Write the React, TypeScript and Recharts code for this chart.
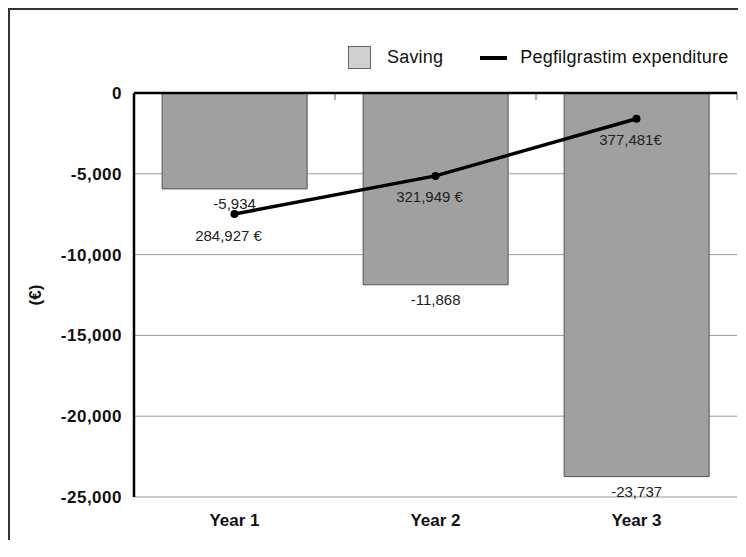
import {
  ComposedChart,
  Bar,
  Line,
  XAxis,
  YAxis,
  CartesianGrid,
  Legend,
  LabelList,
  ReferenceLine,
} from "recharts";

const years = ["Year 1", "Year 2", "Year 3"];
const savings = [-5934, -11868, -23737];
const expenditure = [284927, 321949, 377481];
const expenditureLabels = ["284,927 €", "321,949 €", "377,481€"];
const yTicks = [-25000, -20000, -15000, -10000, -5000, 0];

const data = years.map((year, i) => ({
  year,
  saving: savings[i],
  expenditure: expenditure[i],
}));

const FONT = '"Liberation Sans", Arial, Helvetica, sans-serif';

function renderSavingLabel(props: any) {
  const { x, y, width, height, value } = props;
  const bottom = Math.max(Number(y), Number(y) + Number(height));
  return (
    <text
      x={Number(x) + Number(width) / 2}
      y={bottom + 15}
      textAnchor="middle"
      dominantBaseline="central"
      fontSize={15}
      fontFamily={FONT}
      fill="#222"
    >
      {Number(value).toLocaleString("en-US")}
    </text>
  );
}

function renderExpenditureLabel(props: any) {
  const { x, y, index } = props;
  return (
    <text
      x={Number(x) - 6}
      y={Number(y) + 21}
      textAnchor="middle"
      dominantBaseline="central"
      fontSize={15}
      fontFamily={FONT}
      fill="#222"
    >
      {expenditureLabels[index]}
    </text>
  );
}

// zero line with the small marks at the category boundaries hanging under it
function renderZeroLine(props: any) {
  const x1 = Number(props.x1);
  const x2 = Number(props.x2);
  const y = Number(props.y1);
  const n = years.length;
  const marks = Array.from({ length: n + 1 }, (_, i) => x1 + ((x2 - x1) * i) / n);
  return (
    <g>
      {marks.map((mx, i) => (
        <line key={i} x1={mx} x2={mx} y1={y} y2={y + 7} stroke="#666" strokeWidth={1} />
      ))}
      <line x1={x1} x2={x2} y1={y} y2={y} stroke="#000" strokeWidth={2.5} />
    </g>
  );
}

function renderLegend() {
  return (
    <div
      style={{
        display: "flex",
        alignItems: "center",
        fontFamily: FONT,
        fontSize: 18,
        color: "#111",
        letterSpacing: 0.2,
      }}
    >
      <span
        style={{
          width: 23,
          height: 23,
          boxSizing: "border-box",
          background: "#d0d0d0",
          border: "1.5px solid #666",
          marginRight: 16,
        }}
      />
      <span>Saving</span>
      <span
        style={{
          width: 27,
          height: 4,
          background: "#000",
          marginLeft: 37,
          marginRight: 13,
        }}
      />
      <span>Pegfilgrastim expenditure</span>
    </div>
  );
}

export default function App() {
  return (
    <div
      style={{
        borderTop: "2px solid #333",
        borderLeft: "2px solid #333",
        width: 734,
        height: 530,
      }}
    >
      <ComposedChart
        width={734}
        height={530}
        data={data}
        margin={{ top: 83, right: 7, left: 0, bottom: 13 }}
        barCategoryGap="14%"
      >
        <CartesianGrid vertical={false} stroke="#999" />
        <XAxis
          dataKey="year"
          axisLine={false}
          tickLine={false}
          tickSize={0}
          tickMargin={17}
          height={30}
          tick={{ fontSize: 17, fontWeight: 700, fill: "#111", fontFamily: FONT }}
        />
        <YAxis
          domain={[-25000, 0]}
          ticks={yTicks}
          width={124}
          tickLine={false}
          tickSize={0}
          tickMargin={12}
          axisLine={{ stroke: "#000", strokeWidth: 2.5 }}
          tickFormatter={(v: number) => v.toLocaleString("en-US")}
          tick={{ fontSize: 17, fontWeight: 700, fill: "#111", fontFamily: FONT, letterSpacing: 0.5 }}
          label={{
            value: "(€)",
            angle: -90,
            position: "insideLeft",
            offset: 25,
            style: {
              textAnchor: "middle",
              fontSize: 17,
              fontWeight: 700,
              fill: "#111",
              fontFamily: FONT,
            },
          }}
        />
        <YAxis yAxisId="right" hide domain={[10000, 402500]} />
        <Legend
          layout="horizontal"
          verticalAlign="middle"
          align="center"
          content={renderLegend}
          wrapperStyle={{ top: 36, left: 338, width: 400 }}
        />
        <Bar
          dataKey="saving"
          name="Saving"
          fill="#a0a0a0"
          stroke="#555"
          strokeWidth={1}
          isAnimationActive={false}
        >
          <LabelList dataKey="saving" content={renderSavingLabel} />
        </Bar>
        <ReferenceLine y={0} stroke="#000" strokeWidth={2.5} shape={renderZeroLine} />
        <Line
          yAxisId="right"
          dataKey="expenditure"
          name="Pegfilgrastim expenditure"
          stroke="#000"
          strokeWidth={3.5}
          dot={{ r: 4, fill: "#000", stroke: "#000", strokeWidth: 0 }}
          activeDot={false}
          isAnimationActive={false}
        >
          <LabelList dataKey="expenditure" content={renderExpenditureLabel} />
        </Line>
      </ComposedChart>
    </div>
  );
}
